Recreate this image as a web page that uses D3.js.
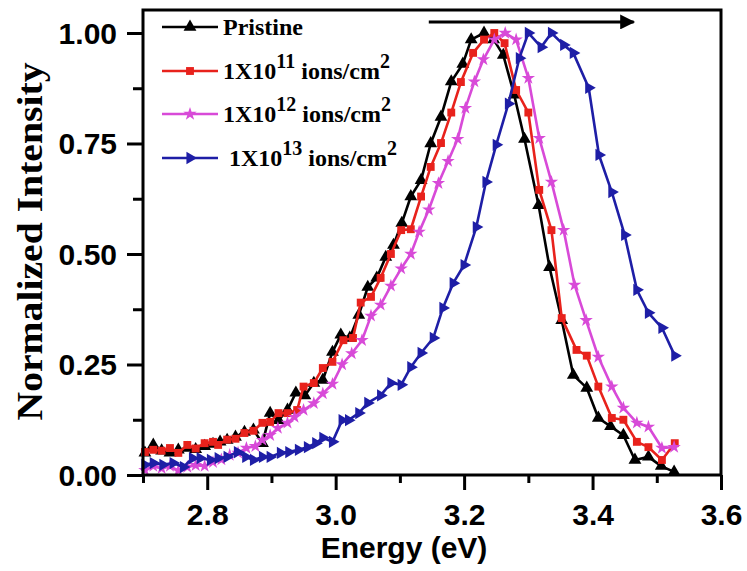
<!DOCTYPE html>
<html>
<head>
<meta charset="utf-8">
<script src="https://cdn.jsdelivr.net/npm/d3@7"></script>
<style>
  html, body { margin: 0; padding: 0; background: #fff; }
  svg { display: block; }
</style>
</head>
<body>
<svg id="chart" width="747" height="571"></svg>
<script>
// Photoluminescence spectra, normalized, for pristine and ion-irradiated films
const pristineE = [2.703,2.716,2.729,2.742,2.755,2.769,2.782,2.796,2.809,2.820,2.831,2.844,2.858,2.872,2.886,2.898,2.911,2.925,2.938,2.952,2.966,2.980,2.995,3.008,3.022,3.036,3.050,3.064,3.078,3.090,3.103,3.117,3.133,3.148,3.164,3.180,3.198,3.211,3.231,3.246,3.261,3.278,3.294,3.316,3.333,3.352,3.370,3.391,3.409,3.428,3.448,3.466,3.487,3.507,3.527];
const pristineI = [0.050,0.068,0.055,0.050,0.057,0.061,0.058,0.065,0.070,0.075,0.079,0.086,0.097,0.102,0.072,0.140,0.124,0.147,0.186,0.180,0.208,0.215,0.278,0.317,0.310,0.362,0.425,0.446,0.493,0.520,0.570,0.630,0.667,0.750,0.810,0.890,0.930,0.985,1.000,0.985,0.950,0.860,0.760,0.610,0.470,0.350,0.226,0.197,0.129,0.110,0.090,0.034,0.041,0.020,0.007];

const dose11E = [2.703,2.716,2.729,2.742,2.755,2.769,2.782,2.796,2.809,2.817,2.831,2.844,2.858,2.872,2.886,2.898,2.911,2.925,2.940,2.950,2.966,2.980,2.995,3.012,3.027,3.039,3.055,3.070,3.086,3.102,3.117,3.133,3.148,3.164,3.180,3.195,3.214,3.231,3.247,3.263,3.281,3.300,3.317,3.336,3.352,3.375,3.391,3.409,3.430,3.448,3.469,3.487,3.508,3.528];
const dose11I = [0.052,0.057,0.055,0.061,0.050,0.068,0.060,0.072,0.075,0.068,0.080,0.082,0.095,0.100,0.118,0.120,0.140,0.140,0.147,0.200,0.208,0.242,0.256,0.305,0.310,0.390,0.403,0.446,0.500,0.554,0.556,0.630,0.697,0.751,0.820,0.889,0.955,0.985,1.000,0.977,0.871,0.820,0.645,0.554,0.355,0.283,0.270,0.200,0.129,0.125,0.075,0.063,0.034,0.072];

const dose12E = [2.703,2.716,2.729,2.742,2.755,2.769,2.782,2.796,2.809,2.822,2.835,2.848,2.861,2.875,2.886,2.898,2.910,2.925,2.936,2.950,2.966,2.980,2.995,3.010,3.025,3.041,3.055,3.070,3.086,3.102,3.117,3.130,3.145,3.160,3.175,3.190,3.202,3.216,3.230,3.247,3.264,3.281,3.300,3.317,3.336,3.355,3.372,3.390,3.409,3.430,3.448,3.469,3.487,3.508,3.527];
const dose12I = [0.011,0.020,0.015,0.020,0.010,0.018,0.022,0.020,0.029,0.035,0.045,0.050,0.061,0.065,0.079,0.090,0.106,0.118,0.131,0.147,0.162,0.184,0.206,0.250,0.275,0.305,0.360,0.385,0.428,0.467,0.500,0.550,0.600,0.660,0.710,0.760,0.830,0.890,0.940,0.985,1.000,0.985,0.898,0.762,0.663,0.554,0.430,0.350,0.267,0.200,0.152,0.118,0.109,0.061,0.063];

const dose13E = [2.703,2.716,2.731,2.747,2.763,2.777,2.789,2.805,2.817,2.831,2.847,2.860,2.872,2.886,2.898,2.914,2.927,2.942,2.956,2.969,2.980,2.995,3.010,3.020,3.036,3.050,3.070,3.086,3.102,3.117,3.133,3.152,3.167,3.183,3.200,3.219,3.234,3.250,3.269,3.286,3.300,3.320,3.336,3.355,3.370,3.394,3.410,3.430,3.450,3.469,3.487,3.508,3.528];
const dose13I = [0.023,0.027,0.023,0.027,0.018,0.038,0.038,0.034,0.038,0.041,0.052,0.041,0.034,0.041,0.041,0.050,0.052,0.057,0.063,0.072,0.084,0.075,0.124,0.124,0.140,0.163,0.180,0.208,0.204,0.244,0.276,0.310,0.378,0.434,0.475,0.561,0.663,0.747,0.840,0.943,1.000,0.968,1.000,0.973,0.955,0.876,0.724,0.640,0.543,0.419,0.367,0.333,0.270];

const seriesNames = ["Pristine", "1X10|11| ions/cm|2", "1X10|12| ions/cm|2", " 1X10|13| ions/cm|2"];
const seriesColors = ["#000000", "#e8221c", "#d84ad8", "#1e1ea6"];
const seriesMarkers = ["triangleUp", "square", "star", "triangleRight"];

const xTicks = [2.8, 3.0, 3.2, 3.4, 3.6];
const xMinorTicks = [2.7, 2.9, 3.1, 3.3, 3.5];
const yTicks = [0, 0.25, 0.5, 0.75, 1.0];
const yMinorTicks = [0.125, 0.375, 0.625, 0.875];
const xDomain = [2.7, 3.6];
const yDomain = [0, 1.052];
const arrowFrom = [3.145, 1.025];
const arrowTo = [3.464, 1.025];

const xTitle = "Energy (eV)";
const yTitle = "Normalized Intensity";

const series = [
  { E: pristineE, I: pristineI },
  { E: dose11E, I: dose11I },
  { E: dose12E, I: dose12I },
  { E: dose13E, I: dose13I }
].map((s, k) => ({
  name: seriesNames[k],
  color: seriesColors[k],
  marker: seriesMarkers[k],
  points: s.E.map((e, i) => ({ e, v: s.I[i] }))
}));

const svg = d3.select("#chart");
const plotLeft = 143, plotRight = 721, plotTop = 10, plotBottom = 475;

const x = d3.scaleLinear().domain(xDomain).range([plotLeft, plotRight]);
const y = d3.scaleLinear().domain(yDomain).range([plotBottom, plotTop]);

const sansBold = "'Liberation Sans', Arial, sans-serif";
const serifBold = "'Liberation Serif', 'Times New Roman', serif";

function markerPath(kind, size) {
  switch (kind) {
    case "triangleUp": return d3.symbol().type(d3.symbolTriangle).size(size * 1.15)();
    case "square": return d3.symbol().type(d3.symbolSquare).size(size)();
    case "star": return d3.symbol().type(d3.symbolStar).size(size * 0.9)();
    case "triangleRight": return d3.symbol().type(d3.symbolTriangle).size(size * 1.05)();
  }
}
function markerRotate(kind) { return kind === "triangleRight" ? 90 : 0; }

// Curves
const line = d3.line().x(d => x(d.e)).y(d => y(d.v));
const g = svg.append("g");
series.forEach(s => {
  const sg = g.append("g");
  sg.append("path")
    .datum(s.points)
    .attr("d", line)
    .attr("fill", "none")
    .attr("stroke", s.color)
    .attr("stroke-width", 2.6)
    .attr("stroke-linejoin", "round");
  sg.selectAll("path.m")
    .data(s.points)
    .join("path")
    .attr("class", "m")
    .attr("d", markerPath(s.marker, 62))
    .attr("fill", s.color)
    .attr("transform", d => `translate(${x(d.e)},${y(d.v)}) rotate(${markerRotate(s.marker)})`);
});

// Frame
svg.append("rect")
  .attr("x", plotLeft).attr("y", plotTop)
  .attr("width", plotRight - plotLeft).attr("height", plotBottom - plotTop)
  .attr("fill", "none").attr("stroke", "#000").attr("stroke-width", 3);

// Axes
function styleAxis(sel) {
  sel.select(".domain").remove();
  sel.selectAll(".tick line").attr("stroke", "#000").attr("stroke-width", 3);
}
const xAxis = svg.append("g").attr("transform", `translate(0,${plotBottom})`)
  .call(d3.axisBottom(x).tickValues(xTicks).tickSize(15).tickFormat(d3.format(".1f")));
styleAxis(xAxis);
xAxis.selectAll(".tick text")
  .attr("y", 50).attr("dy", 0)
  .attr("font-family", sansBold).attr("font-weight", "bold")
  .attr("font-size", 30).attr("fill", "#000");
const xMinor = svg.append("g").attr("transform", `translate(0,${plotBottom})`)
  .call(d3.axisBottom(x).tickValues(xMinorTicks).tickSize(8).tickFormat(""));
styleAxis(xMinor);

const yAxis = svg.append("g").attr("transform", `translate(${plotLeft},0)`)
  .call(d3.axisLeft(y).tickValues(yTicks).tickSize(16).tickFormat(d3.format(".2f")));
styleAxis(yAxis);
yAxis.selectAll(".tick text")
  .attr("x", -26).attr("dy", "0.34em")
  .attr("font-family", sansBold).attr("font-weight", "bold")
  .attr("font-size", 30).attr("fill", "#000");
const yMinor = svg.append("g").attr("transform", `translate(${plotLeft},0)`)
  .call(d3.axisLeft(y).tickValues(yMinorTicks).tickSize(10).tickFormat(""));
styleAxis(yMinor);

// Axis titles
svg.append("text")
  .attr("x", (plotLeft + plotRight) / 2 - 28).attr("y", 558)
  .attr("text-anchor", "middle")
  .attr("font-family", sansBold).attr("font-weight", "bold").attr("font-size", 30)
  .text(xTitle);

svg.append("text")
  .attr("transform", `translate(42,${(33 + 420) / 2 + 15}) rotate(-90)`)
  .attr("text-anchor", "middle")
  .attr("font-family", serifBold).attr("font-weight", "bold").attr("font-size", 36)
  .attr("textLength", 358).attr("lengthAdjust", "spacingAndGlyphs")
  .text(yTitle);

// Shift arrow
svg.append("defs").append("marker")
  .attr("id", "arrowhead")
  .attr("viewBox", "0 0 10 10").attr("refX", 9).attr("refY", 5)
  .attr("markerWidth", 7).attr("markerHeight", 5).attr("markerUnits", "strokeWidth")
  .attr("orient", "auto")
  .append("path").attr("d", "M0,0 L10,5 L0,10 Z").attr("fill", "#000");
svg.append("line")
  .attr("x1", x(arrowFrom[0])).attr("y1", y(arrowFrom[1]))
  .attr("x2", x(arrowTo[0])).attr("y2", y(arrowTo[1]))
  .attr("stroke", "#000").attr("stroke-width", 3)
  .attr("marker-end", "url(#arrowhead)");

// Legend
const legendY = [27, 71, 114, 158];
const legend = svg.append("g");
series.forEach((s, k) => {
  const row = legend.append("g").attr("transform", `translate(0,${legendY[k]})`);
  row.append("line").attr("x1", 162).attr("x2", 218).attr("y1", 0).attr("y2", 0)
    .attr("stroke", s.color).attr("stroke-width", 2.6);
  row.append("path").attr("d", markerPath(s.marker, 62)).attr("fill", s.color)
    .attr("transform", `translate(190,0) rotate(${markerRotate(s.marker)})`);
  const parts = s.name.split("|");
  const t = row.append("text").attr("x", 223).attr("y", 8)
    .attr("font-family", serifBold).attr("font-weight", "bold").attr("font-size", 24).attr("fill", "#000")
    .attr("xml:space", "preserve");
  parts.forEach((p, i) => {
    const sup = i % 2 === 1;
    t.append("tspan")
      .attr("font-size", sup ? 20 : 24)
      .attr("dy", i === 0 ? 0 : (sup ? -11 : 11))
      .text(p);
  });
});
</script>
</body>
</html>
